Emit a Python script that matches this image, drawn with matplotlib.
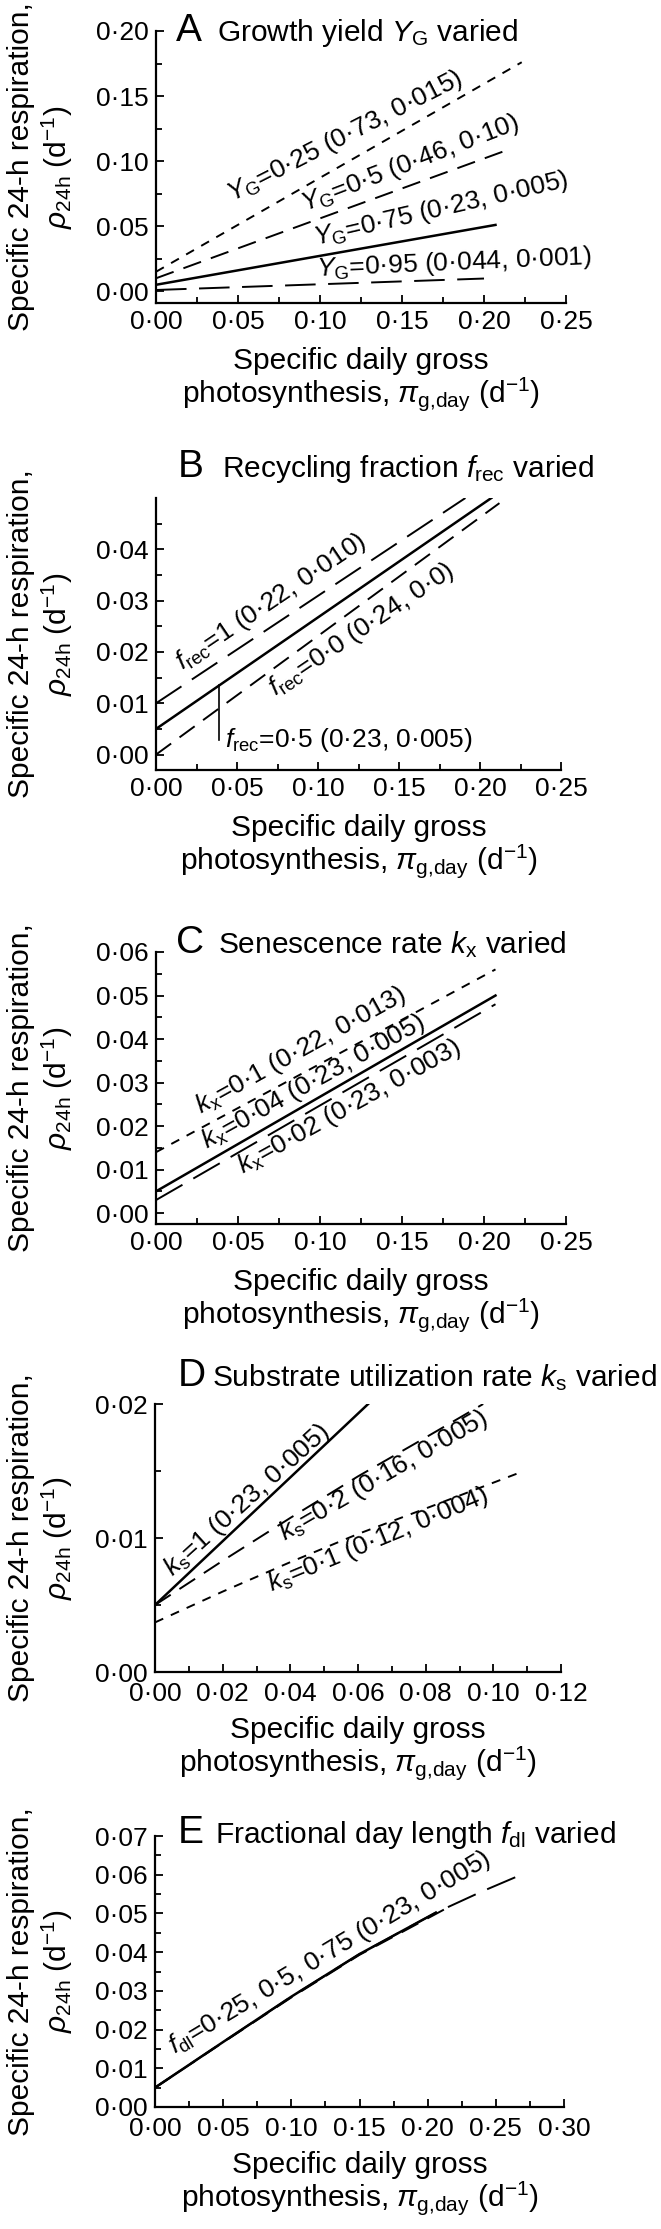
import numpy as np
import matplotlib
matplotlib.use('Agg')
import matplotlib.pyplot as plt
from matplotlib.ticker import MultipleLocator, FixedLocator, FuncFormatter

plt.rcParams['font.family'] = ['Liberation Sans', 'DejaVu Sans']
plt.rcParams['mathtext.fontset'] = 'custom'
plt.rcParams['mathtext.rm'] = 'Liberation Sans'
plt.rcParams['mathtext.it'] = 'Liberation Sans:italic'
plt.rcParams['mathtext.bf'] = 'Liberation Sans:bold'
plt.rcParams['mathtext.sf'] = 'Liberation Sans'
plt.rcParams['lines.scale_dashes'] = False

# --- dane ---
# A: growth yield Y_G
yg025_x = [0.0, 0.223]
yg025_y = [0.015, 0.176]
yg05_x = [0.0, 0.213]
yg05_y = [0.010, 0.108]
yg075_x = [0.0, 0.207]
yg075_y = [0.005, 0.051]
yg095_x = [0.0, 0.200]
yg095_y = [0.001, 0.0098]

# B: recycling fraction f_rec
fr1_x = [0.0, 0.191]
fr1_y = [0.010, 0.050]
fr05_x = [0.0, 0.207]
fr05_y = [0.005, 0.050]
fr0_x = [0.0, 0.212]
fr0_y = [0.0, 0.049]

# C: senescence rate k_x
kx01_x = [0.0, 0.207]
kx01_y = [0.014, 0.056]
kx004_x = [0.0, 0.207]
kx004_y = [0.005, 0.050]
kx002_x = [0.0, 0.207]
kx002_y = [0.003, 0.048]

# D: substrate utilization rate k_s
ks1_x = [0.0, 0.063]
ks1_y = [0.005, 0.020]
ks02_x = [0.0, 0.02, 0.04, 0.06, 0.08, 0.097]
ks02_y = [0.005, 0.0083, 0.0115, 0.0146, 0.0175, 0.0200]
ks01_x = [0.0, 0.02, 0.04, 0.06, 0.08, 0.108]
ks01_y = [0.0037, 0.0060, 0.0082, 0.0103, 0.0122, 0.0149]

# E: fractional day length f_dl
fdl_a_x = [0.0, 0.05, 0.10, 0.15, 0.206]
fdl_a_y = [0.005, 0.0168, 0.0285, 0.0395, 0.0502]
fdl_b_x = [0.0, 0.05, 0.10, 0.15, 0.212]
fdl_b_y = [0.005, 0.0167, 0.0283, 0.0393, 0.0510]
fdl_c_x = [0.0, 0.05, 0.10, 0.15, 0.206, 0.24, 0.272]
fdl_c_y = [0.005, 0.0168, 0.0285, 0.0395, 0.0502, 0.0557, 0.0605]

W, H = 661, 2229
fig = plt.figure(figsize=(W / 100, H / 100), dpi=100)

SOLID = '-'
SHORT = (0, (6.5, 6))
MED = (0, (13.5, 7.5))
LONG = (0, (22, 9))

def fmt(v, pos):
    return f'{v:.2f}'.replace('.', '·')

def make_axes(l, r, t, b, xlim, ylim, xmaj, xmin, yticks, yminor, xpad=5):
    ax = fig.add_axes([l / W, 1 - b / H, (r - l) / W, (b - t) / H])
    ax.set_xlim(*xlim)
    ax.set_ylim(*ylim)
    for s in ['top', 'right']:
        ax.spines[s].set_visible(False)
    for s in ['left', 'bottom']:
        ax.spines[s].set_linewidth(1.6)
    ax.xaxis.set_major_locator(MultipleLocator(xmaj))
    ax.xaxis.set_minor_locator(MultipleLocator(xmin))
    ax.yaxis.set_major_locator(FixedLocator(yticks))
    ax.yaxis.set_minor_locator(FixedLocator(yminor))
    ax.xaxis.set_major_formatter(FuncFormatter(fmt))
    ax.yaxis.set_major_formatter(FuncFormatter(fmt))
    ax.tick_params(which='both', direction='in', width=1.3, labelsize=19, pad=5)
    ax.tick_params(axis='x', which='both', pad=xpad)
    ax.tick_params(which='major', length=6)
    ax.tick_params(which='minor', length=4.5)
    ax.patch.set_alpha(0)
    return ax

def labels(l, r, t, b, letter, title, title_base, letter_x, text_x):
    fig.text(letter_x / W, 1 - title_base / H, letter, fontsize=28, va='baseline', ha='left')
    fig.text(text_x / W, 1 - title_base / H, title, fontsize=21.5, va='baseline', ha='left')
    cy = 1 - (t + b) / 2 / H
    fig.text(21 / W, cy, 'Specific 24-h respiration,', rotation=90, fontsize=21.5,
             ha='center', va='center')
    fig.text(57 / W, cy, r'$\rho_{\mathrm{24h}}$ (d$^{-1}$)', rotation=90, fontsize=21.5,
             ha='center', va='center')
    cx = (l + r) / 2 / W
    fig.text(cx, 1 - (b + 66) / H, 'Specific daily gross', fontsize=21.5,
             ha='center', va='baseline')
    fig.text(cx, 1 - (b + 99) / H, r'photosynthesis, $\pi_{\mathrm{g{,}day}}$ (d$^{-1}$)',
             fontsize=21.5, ha='center', va='baseline')

def note(ax, x, y, s, rot, **kw):
    ax.text(x, y, s, fontsize=19, rotation=rot, rotation_mode='anchor',
            ha=kw.get('ha', 'center'), va='center')

# ---------- A ----------
ax = make_axes(156, 566, 31, 303, (0, 0.25), (-0.009, 0.20), 0.05, 0.025,
               [0, 0.05, 0.10, 0.15, 0.20], np.arange(0, 0.2001, 0.025))
labels(156, 566, 31, 303, 'A', r'Growth yield $Y_{\mathrm{G}}$ varied', 41, 176, 217)
ax.plot(yg025_x, yg025_y, color='k', lw=1.4, ls=SHORT)
ax.plot(yg05_x, yg05_y, color='k', lw=1.4, ls=MED)
ax.plot(yg075_x, yg075_y, color='k', lw=1.8, ls=SOLID)
ax.plot(yg095_x, yg095_y, color='k', lw=1.4, ls=LONG)
note(ax, 0.115, 0.119, r'$Y_{\mathrm{G}}$=0·25 (0·73, 0·015)', 27)
note(ax, 0.155, 0.098, r'$Y_{\mathrm{G}}$=0·5 (0·46, 0·10)', 21)
note(ax, 0.174, 0.063, r'$Y_{\mathrm{G}}$=0·75 (0·23, 0·005)', 13)
note(ax, 0.182, 0.0215, r'$Y_{\mathrm{G}}$=0·95 (0·044, 0·001)', 2.5)

# ---------- B ----------
ax = make_axes(156, 561, 498, 770, (0, 0.25), (-0.003, 0.05), 0.05, 0.025,
               [0, 0.01, 0.02, 0.03, 0.04], np.arange(0, 0.0451, 0.005))
labels(156, 561, 498, 770, 'B', r'Recycling fraction $f_{\mathrm{rec}}$ varied', 477, 178, 222)
ax.plot(fr1_x, fr1_y, color='k', lw=1.4, ls=LONG)
ax.plot(fr05_x, fr05_y, color='k', lw=1.8, ls=SOLID)
ax.plot(fr0_x, fr0_y, color='k', lw=1.4, ls=MED)
note(ax, 0.071, 0.0297, r'$f_{\mathrm{rec}}$=1 (0·22, 0·010)', 34)
note(ax, 0.127, 0.0243, r'$f_{\mathrm{rec}}$=0·0 (0·24, 0·0)', 34)
ax.plot([0.039, 0.039], [0.0136, 0.0029], color='k', lw=1.2)
note(ax, 0.0425, 0.0029, r'$f_{\mathrm{rec}}$=0·5 (0·23, 0·005)', 0, ha='left')

# ---------- C ----------
ax = make_axes(156, 566, 952, 1224, (0, 0.25), (-0.0025, 0.06), 0.05, 0.025,
               [0, 0.01, 0.02, 0.03, 0.04, 0.05, 0.06], np.arange(0, 0.0601, 0.005))
labels(156, 566, 952, 1224, 'C', r'Senescence rate $k_{\mathrm{x}}$ varied', 953, 176, 218)
ax.plot(kx01_x, kx01_y, color='k', lw=1.4, ls=SHORT)
ax.plot(kx004_x, kx004_y, color='k', lw=1.8, ls=SOLID)
ax.plot(kx002_x, kx002_y, color='k', lw=1.4, ls=LONG)
note(ax, 0.088, 0.0375, r'$k_{\mathrm{x}}$=0·1 (0·22, 0·013)', 29)
note(ax, 0.096, 0.0301, r'$k_{\mathrm{x}}$=0·04 (0·23, 0·005)', 29)
note(ax, 0.118, 0.0244, r'$k_{\mathrm{x}}$=0·02 (0·23, 0·003)', 29)

# ---------- D ----------
ax = make_axes(155, 561, 1404, 1672, (0, 0.12), (0, 0.02), 0.02, 0.01,
               [0, 0.01, 0.02], np.arange(0, 0.0201, 0.005), xpad=7)
labels(155, 561, 1404, 1672, 'D', r'Substrate utilization rate $k_{\mathrm{s}}$ varied', 1386, 178, 212)
ax.plot(ks1_x, ks1_y, color='k', lw=1.8, ls=SOLID)
ax.plot(ks02_x, ks02_y, color='k', lw=1.4, ls=MED)
ax.plot(ks01_x, ks01_y, color='k', lw=1.4, ls=SHORT)
note(ax, 0.0272, 0.01284, r'$k_{\mathrm{s}}$=1 (0·23, 0·005)', 42)
note(ax, 0.0677, 0.01463, r'$k_{\mathrm{s}}$=0·2 (0·16, 0·005)', 30)
note(ax, 0.0659, 0.00985, r'$k_{\mathrm{s}}$=0·1 (0·12, 0·004)', 22.5)

# ---------- E ----------
ax = make_axes(155, 564, 1836, 2107, (0, 0.30), (0, 0.07), 0.05, 0.025,
               [0, 0.01, 0.02, 0.03, 0.04, 0.05, 0.06, 0.07], np.arange(0, 0.0701, 0.005),
               xpad=7)
labels(155, 564, 1836, 2107, 'E', r'Fractional day length $f_{\mathrm{dl}}$ varied', 1843, 178, 215)
ax.plot(fdl_c_x, fdl_c_y, color='k', lw=1.4, ls=LONG)
ax.plot(fdl_b_x, fdl_b_y, color='k', lw=1.4, ls=MED)
ax.plot(fdl_a_x, fdl_a_y, color='k', lw=1.8, ls=SOLID)
note(ax, 0.128, 0.0398, r'$f_{\mathrm{dl}}$=0·25, 0·5, 0·75 (0·23, 0·005)', 31)

fig.savefig('out.png', dpi=100)
